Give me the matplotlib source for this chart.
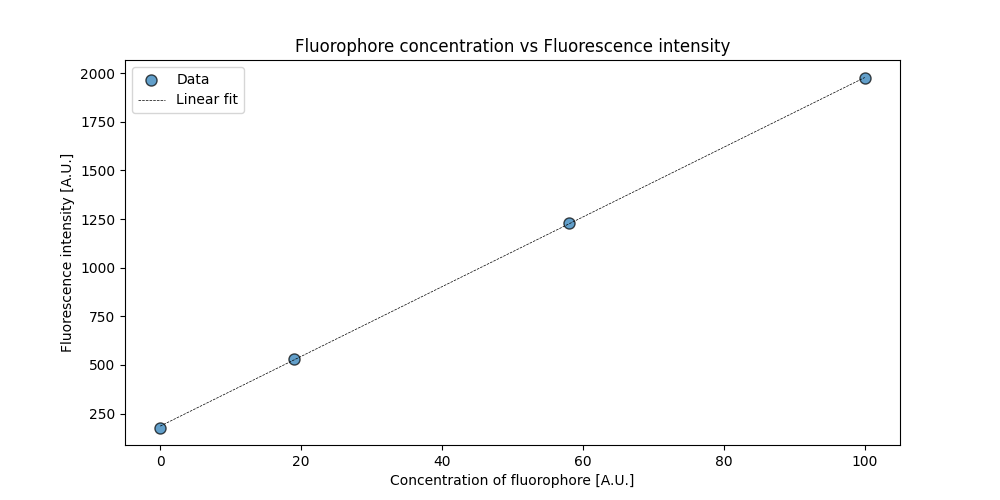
import numpy as np
import matplotlib.pyplot as plt

concentration = [0, 19, 58, 100]
intensity = [178, 532, 1230, 1974]

slope, intercept = np.polyfit(concentration, intensity, 1)
x_fit = np.array([min(concentration), max(concentration)])
y_fit = slope * x_fit + intercept

fig, ax = plt.subplots(figsize=(10, 5), dpi=100)
ax.scatter(concentration, intensity, s=64, color="C0", alpha=0.7,
           edgecolor="black", label="Data", zorder=2)
ax.plot(x_fit, y_fit, "k--", linewidth=0.5, label="Linear fit", zorder=3)

ax.set_xlabel("Concentration of fluorophore [A.U.]")
ax.set_ylabel("Fluorescence intensity [A.U.]")
ax.set_title("Fluorophore concentration vs Fluorescence intensity")
ax.legend(loc="upper left")

plt.savefig("out.png")
